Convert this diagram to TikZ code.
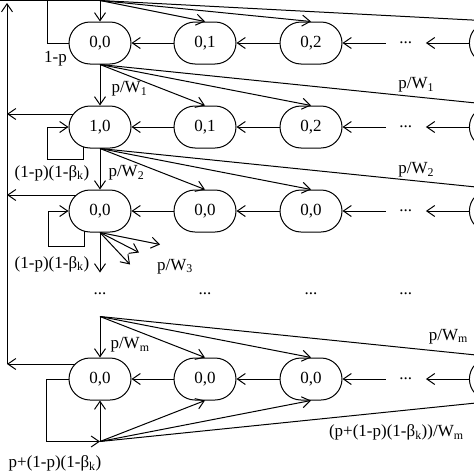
\documentclass[tikz,border=0pt]{standalone}
\usepackage{fontspec}
\setmainfont{Liberation Serif}
\usetikzlibrary{positioning,arrows.meta}

\tikzstyle{state}=[rectangle,
    rounded corners=21pt,
    line width=1pt,
    minimum height=42pt,
    minimum width=62pt,
    inner sep=0pt,
    draw=black]
\tikzstyle{dots}=[inner sep=0pt, minimum width=40pt]
\tikzstyle{lbl}=[inner sep=0pt]
\tikzstyle{wire}=[line width=1pt]
\tikzstyle{flow}=[line width=1pt, -{Straight Barb[length=8pt,width=11pt]}]

\begin{document}
\begin{tikzpicture}[font=\fontsize{17}{20}\selectfont]
\clip (0,0) rectangle (474pt,-474pt);
% stage 0
\node (a1) [state] at (100pt,-43pt) {0,0};
\node (a2) [state, right=42pt of a1] {0,1};
\node (a3) [state, right=43pt of a2] {0,2};
\node (ad) [dots, right=43pt of a3] {...};
\node (a5) [state, right=43pt of ad] {0,W\textsubscript{0}-1};
% stage 1
\node (b1) [state, below=41pt of a1] {1,0};
\node (b2) [state, right=42pt of b1] {0,1};
\node (b3) [state, right=43pt of b2] {0,2};
\node (bd) [dots, right=43pt of b3] {...};
\node (b5) [state, right=43pt of bd] {1,W\textsubscript{1}-1};
% stage 2
\node (c1) [state, below=41pt of b1] {0,0};
\node (c2) [state, right=42pt of c1] {0,0};
\node (c3) [state, right=43pt of c2] {0,0};
\node (cd) [dots, right=43pt of c3] {...};
\node (c5) [state, right=43pt of cd] {0,W\textsubscript{2}-1};
% skipped stages
\node (d1) [dots] at ([yshift=-83pt]c1) {...};
\node (d2) [dots] at ([yshift=-83pt]c2) {...};
\node (d3) [dots] at ([yshift=-83pt]c3) {...};
\node (dd) [dots] at ([yshift=-83pt]cd) {...};
% stage m
\node (m1) [state, below=125pt of c1] {0,0};
\node (m2) [state, right=42pt of m1] {0,0};
\node (m3) [state, right=43pt of m2] {0,0};
\node (md) [dots, right=43pt of m3] {...};
\node (m5) [state, right=43pt of md] {0,W\textsubscript{m}-1};

\coordinate (bus) at (7pt,0);
\coordinate (bustop) at (7pt,-3pt);
\coordinate (topleft) at (0,-0.5pt);
\coordinate (topfan) at (100pt,-0.5pt);
\coordinate (mtop) at ([yshift=41pt]m1.north);
\coordinate (mbot) at ([yshift=-41pt]m1.south);
\coordinate (bx) at ([shift={(4.5pt,13pt)}]b1.west);
\coordinate (cx) at ([shift={(7pt,16pt)}]c1.west);
\coordinate (mx) at ([shift={(6pt,15pt)}]m1.west);

% backward chains
\foreach \r in {a,b,c,m}{
  \draw[flow] (\r5) -- (\r d);
  \draw[flow] (\r d) -- (\r3);
  \draw[flow] (\r3) -- (\r2);
  \draw[flow] (\r2) -- (\r1);
}

% return to stage 0
\draw[flow] (mx -| bus) -- (bustop);
\draw[wire] (topleft) -- (topfan);
\draw[flow] (bx) -- (bx -| bus);
\draw[flow] (cx) -- (cx -| bus);
\draw[flow] (mx) -- (mx -| bus);

% stage 0
\draw[wire] (a1.west) -- ++(-21pt,0) |- (topfan);
\node[lbl] at ([shift={(-13pt,-16pt)}]a1.west) {1-p};
\foreach \t in {a1,a2,a3,a5} \draw[flow] (topfan) -- (\t.north);

% stage 0 -> 1
\draw[flow] (a1.south) -- node[lbl, pos=0.6, right=11pt] {p/W\textsubscript{1}} (b1.north);
\foreach \t in {b2,b3} \draw[flow] (a1.south) -- (\t.north);
\draw[flow] (a1.south) -- node[lbl, pos=0.79, above=4pt] {p/W\textsubscript{1}} (b5.north);

% stage 1
\draw[flow] ([shift={(-17pt,-19.5pt)}]b1.center) -- ++(0,-12.5pt) -| ([xshift=-21pt]b1.west) -- (b1.west);
\node[lbl] at ([shift={(-48pt,-46pt)}]b1.center) {(1-p)(1-β\textsubscript{k})};
\draw[flow] (b1.south) -- node[lbl, pos=0.6, right=8pt] {p/W\textsubscript{2}} (c1.north);
\foreach \t in {c2,c3} \draw[flow] (b1.south) -- (\t.north);
\draw[flow] (b1.south) -- node[lbl, pos=0.79, above=3pt] {p/W\textsubscript{2}} (c5.north);

% stage 2
\draw[flow] ([shift={(-16pt,-19.8pt)}]c1.center) -- ++(0,-15.2pt) -| ([xshift=-20pt]c1.west) -- (c1.west);
\node[lbl] at ([shift={(-48pt,-53pt)}]c1.center) {(1-p)(1-β\textsubscript{k})};
\draw[flow] (c1.south) -- ++(0,-40pt);
\foreach \dx/\dy in {60/12,39/20,30/32} \draw[flow] (c1.south) -- ++(\dx pt,-\dy pt);
\node[lbl] at ([shift={(75pt,-34pt)}]c1.south) {p/W\textsubscript{3}};

% stage m
\draw[flow] (mtop) -- node[lbl, pos=0.7, right=10pt] {p/W\textsubscript{m}} (m1.north);
\foreach \t in {m2,m3} \draw[flow] (mtop) -- (\t.north);
\draw[flow] (mtop) -- node[lbl, pos=0.87, above=8pt] {p/W\textsubscript{m}} (m5.north);
\draw[flow] (m1.west) -- ++(-22pt,0) |- (mbot);
\node[lbl] at ([shift={(-45pt,-22pt)}]mbot) {p+(1-p)(1-β\textsubscript{k})};
\foreach \t in {m1,m2,m3} \draw[flow] (mbot) -- (\t.south);
\draw[flow] (mbot) -- node[lbl, pos=0.74, below=13pt] {(p+(1-p)(1-β\textsubscript{k}))/W\textsubscript{m}} (m5.south);
\end{tikzpicture}
\end{document}
